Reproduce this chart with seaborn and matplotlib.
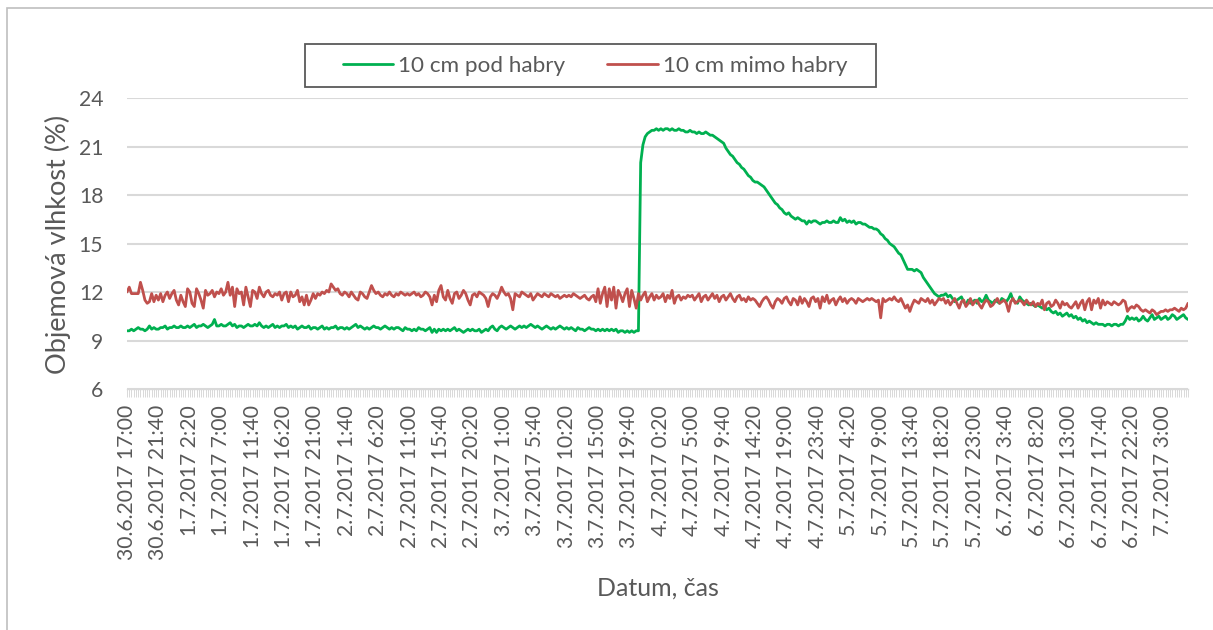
import numpy as np
import pandas as pd
import matplotlib
matplotlib.use("Agg")
import matplotlib.pyplot as plt
import matplotlib.patches as mpatches
import seaborn as sns

# ---------------- data (20-minute readings) ----------------
series_names = ["10 cm pod habry", "10 cm mimo habry"]
series_colors = ["#00B050", "#C0504D"]

pod_habry = [
    9.6, 9.6, 9.7, 9.6, 9.7, 9.8, 9.7, 9.7, 9.6, 9.7, 9.9, 9.7, 9.8, 9.7,
    9.7, 9.8, 9.8, 9.9, 9.7, 9.8, 9.8, 9.9, 9.8, 9.8, 9.9, 9.8, 9.8, 9.9,
    9.8, 9.9, 10.0, 9.8, 9.9, 9.9, 10.0, 9.9, 9.8, 9.9, 10.0, 10.3, 9.9, 9.9,
    10.0, 9.9, 9.9, 10.0, 10.1, 9.9, 10.0, 9.8, 9.9, 9.9, 9.8, 9.9, 10.0, 9.9,
    9.9, 10.0, 9.9, 10.1, 9.9, 9.8, 9.9, 9.8, 9.9, 10.0, 9.8, 9.9, 9.8, 9.9,
    9.9, 10.0, 9.8, 9.9, 9.8, 9.9, 9.7, 9.8, 9.9, 9.8, 9.8, 9.9, 9.7, 9.8,
    9.8, 9.7, 9.8, 9.9, 9.7, 9.8, 9.7, 9.8, 9.8, 9.9, 9.7, 9.8, 9.8, 9.7,
    9.8, 9.7, 9.8, 9.9, 10.0, 9.8, 9.9, 9.8, 9.7, 9.8, 9.7, 9.8, 9.9, 9.8,
    9.8, 9.7, 9.8, 9.9, 9.8, 9.7, 9.8, 9.7, 9.8, 9.8, 9.7, 9.6, 9.8, 9.7,
    9.7, 9.6, 9.7, 9.6, 9.8, 9.7, 9.7, 9.6, 9.7, 9.8, 9.5, 9.7, 9.5, 9.7,
    9.6, 9.7, 9.6, 9.7, 9.6, 9.7, 9.8, 9.6, 9.7, 9.6, 9.5, 9.6, 9.7, 9.6,
    9.7, 9.6, 9.6, 9.7, 9.5, 9.6, 9.7, 9.6, 9.8, 9.9, 9.7, 9.6, 9.8, 9.9,
    9.8, 9.7, 9.8, 9.9, 9.8, 9.7, 9.8, 9.9, 9.8, 9.9, 9.8, 9.9, 10.0, 9.9,
    9.8, 9.9, 9.8, 9.7, 9.8, 9.9, 9.8, 9.7, 9.8, 9.7, 9.8, 9.9, 9.8, 9.7,
    9.8, 9.7, 9.8, 9.7, 9.6, 9.8, 9.7, 9.7, 9.6, 9.7, 9.8, 9.7, 9.7, 9.6,
    9.7, 9.6, 9.7, 9.6, 9.7, 9.6, 9.7, 9.6, 9.7, 9.5, 9.6, 9.6, 9.5, 9.6,
    9.5, 9.6, 9.5, 9.6, 9.6, 20.0, 21.1, 21.6, 21.8, 21.9, 22.0, 22.0, 22.1, 22.0,
    22.1, 22.0, 22.1, 22.1, 22.0, 22.1, 22.0, 22.0, 22.1, 22.0, 22.0, 21.9, 21.9, 22.0,
    21.9, 21.9, 21.8, 21.9, 21.8, 21.8, 21.9, 21.8, 21.7, 21.7, 21.6, 21.5, 21.4, 21.3,
    21.2, 20.9, 20.7, 20.5, 20.4, 20.2, 20.0, 19.9, 19.7, 19.6, 19.4, 19.2, 19.1, 18.9,
    18.8, 18.8, 18.7, 18.6, 18.5, 18.3, 18.1, 17.9, 17.7, 17.5, 17.4, 17.2, 17.1, 16.9,
    16.8, 16.9, 16.7, 16.6, 16.5, 16.6, 16.5, 16.4, 16.4, 16.2, 16.4, 16.3, 16.4, 16.4,
    16.3, 16.2, 16.3, 16.3, 16.4, 16.3, 16.3, 16.4, 16.3, 16.3, 16.6, 16.4, 16.5, 16.3,
    16.4, 16.3, 16.4, 16.2, 16.3, 16.3, 16.2, 16.2, 16.1, 16.0, 16.0, 15.9, 15.9, 15.8,
    15.6, 15.5, 15.3, 15.2, 15.0, 14.9, 14.8, 14.6, 14.4, 14.3, 14.0, 13.7, 13.4, 13.4,
    13.4, 13.3, 13.4, 13.3, 13.2, 12.9, 12.7, 12.5, 12.3, 12.1, 11.9, 11.8, 11.7, 11.8,
    11.8, 11.9, 11.7, 11.8, 11.6, 11.4, 11.5, 11.6, 11.7, 11.4, 11.2, 11.5, 11.3, 11.4,
    11.5, 11.3, 11.6, 11.4, 11.5, 11.8, 11.5, 11.4, 11.3, 11.5, 11.4, 11.3, 11.6, 11.5,
    11.4, 11.6, 11.9, 11.5, 11.4, 11.3, 11.7, 11.5, 11.4, 11.3, 11.2, 11.3, 11.2, 11.1,
    11.2, 11.1, 11.0, 11.1, 10.9, 11.0, 10.8, 10.7, 10.8, 10.6, 10.7, 10.5, 10.6, 10.7,
    10.5, 10.6, 10.4, 10.5, 10.3, 10.4, 10.2, 10.3, 10.1, 10.2, 10.1, 10.0, 10.1, 10.0,
    10.0, 10.0, 9.9, 10.0, 10.0, 9.9, 10.0, 10.0, 9.9, 10.0, 10.0, 10.2, 10.5, 10.3,
    10.4, 10.3, 10.4, 10.2, 10.3, 10.5, 10.3, 10.2, 10.4, 10.6, 10.3, 10.4, 10.5, 10.3,
    10.4, 10.5, 10.3, 10.4, 10.6, 10.5, 10.3, 10.4, 10.5, 10.6, 10.4, 10.3,
]

mimo_habry = [
    12.0, 12.3, 11.9, 11.9, 11.9, 11.9, 12.6, 12.1, 11.5, 11.3, 11.4, 11.9, 11.4, 11.8,
    11.5, 11.9, 11.4, 11.8, 12.0, 11.6, 11.9, 12.1, 11.5, 11.2, 11.8, 11.4, 11.1, 12.2,
    12.0, 11.3, 11.1, 12.2, 11.9, 11.5, 11.0, 12.1, 11.8, 11.9, 12.1, 11.7, 12.0, 11.9,
    12.2, 11.8, 12.0, 12.6, 11.8, 12.3, 11.1, 12.2, 11.9, 12.0, 11.2, 12.3, 11.7, 11.1,
    12.1, 12.0, 11.6, 12.3, 11.9, 11.7, 12.0, 12.1, 11.8, 11.7, 11.9, 11.8, 12.0, 11.5,
    11.9, 12.0, 11.4, 12.0, 11.7, 11.8, 12.1, 11.4, 11.7, 11.2, 11.8, 11.2, 11.5, 11.9,
    11.6, 11.9, 11.8, 12.0, 11.9, 12.1, 12.0, 12.5, 12.3, 12.1, 12.2, 11.9, 11.8, 12.0,
    11.9, 11.7, 12.0, 11.8, 11.6, 11.5, 12.0, 11.9, 11.7, 11.6, 12.0, 12.4, 12.1, 11.9,
    12.0, 11.8, 11.7, 11.9, 11.8, 12.0, 11.8, 11.7, 11.9, 11.8, 12.0, 11.9, 11.8, 11.9,
    11.8, 11.9, 12.0, 11.8, 11.9, 11.7, 11.8, 12.0, 11.9, 11.7, 11.2, 11.8, 11.4, 12.1,
    12.4, 11.7, 11.5, 12.1, 11.6, 11.3, 11.9, 12.0, 11.6, 11.8, 12.1, 11.9, 11.5, 11.2,
    11.8, 11.9, 11.7, 12.0, 11.9, 11.8, 11.6, 11.1, 11.7, 11.9, 11.8, 11.6, 11.9, 12.3,
    12.0, 11.8, 11.9, 11.6, 10.9, 11.9, 11.8, 11.7, 12.0, 11.9, 11.8, 11.7, 11.9, 11.5,
    11.7, 11.9, 11.8, 11.7, 11.9, 11.8, 11.7, 11.9, 11.8, 11.7, 11.8, 11.6, 11.7, 11.8,
    11.7, 11.8, 11.7, 11.9, 11.8, 11.7, 11.6, 11.7, 11.8, 11.6, 11.5, 11.7, 11.8, 11.4,
    12.2, 11.3, 11.9, 12.3, 11.1, 12.2, 11.5, 12.3, 11.0, 12.1, 11.8, 11.4, 11.9, 12.2,
    11.1, 12.1, 11.6, 11.0, 11.9, 11.5, 11.8, 12.0, 11.4, 11.7, 11.9, 11.5, 11.8, 11.6,
    11.7, 11.9, 11.4, 11.8, 11.6, 12.1, 11.3, 11.7, 11.8, 11.5, 11.7, 11.6, 11.8, 11.7,
    11.8, 11.5, 11.7, 11.9, 11.4, 11.7, 11.8, 11.5, 11.7, 11.9, 11.6, 11.8, 11.4, 11.7,
    11.8, 11.5, 11.7, 11.9, 11.6, 11.4, 11.7, 11.8, 11.5, 11.6, 11.4, 11.7, 11.5, 11.6,
    11.5, 11.3, 11.1, 11.4, 11.6, 11.7, 11.5, 11.2, 11.0, 11.4, 11.6, 11.5, 11.3, 11.6,
    11.7, 11.4, 11.2, 11.6, 11.5, 11.2, 11.7, 11.3, 11.6, 11.4, 11.1, 11.6, 11.7, 11.4,
    11.6, 11.0, 11.7, 11.4, 11.8, 11.3, 11.5, 11.6, 11.2, 11.5, 11.7, 11.4, 11.6, 11.3,
    11.5, 11.6, 11.5, 11.3, 11.6, 11.5, 11.4, 11.5, 11.6, 11.5, 11.6, 11.5, 11.4, 11.5,
    10.4, 11.6, 11.4, 11.5, 11.6, 11.5, 11.7, 11.5, 11.4, 11.6, 11.3, 11.0, 11.2, 10.8,
    11.2, 11.5, 11.4, 11.3, 11.6, 11.5, 11.4, 11.6, 11.3, 11.5, 11.2, 11.4, 11.6, 11.5,
    11.6, 11.3, 11.5, 11.2, 11.4, 11.6, 11.3, 11.0, 11.4, 11.5, 11.1, 11.3, 11.6, 11.2,
    11.4, 11.5, 11.2, 11.0, 11.3, 11.5, 11.4, 11.1, 11.2, 11.4, 11.6, 11.3, 11.4, 11.5,
    11.3, 10.8, 11.4, 11.6, 11.3, 11.4, 11.5, 11.4, 11.2, 11.5, 11.3, 11.2, 11.4, 11.1,
    11.3, 11.2, 11.5, 10.9, 11.3, 11.4, 11.1, 11.2, 11.5, 11.3, 11.0, 11.4, 11.2, 11.3,
    11.1, 11.0, 11.2, 11.4, 11.0, 11.3, 11.5, 10.9, 11.4, 11.6, 10.9, 11.5, 11.3, 11.6,
    11.0, 11.5, 11.2, 11.4, 11.3, 11.2, 11.4, 11.3, 11.2, 11.3, 11.5, 11.4, 10.8, 11.0,
    11.1, 11.0, 11.2, 11.1, 10.9, 10.8, 10.9, 10.8, 10.7, 10.9, 10.8, 10.6, 10.7, 10.8,
    10.8, 10.9, 10.8, 10.9, 10.9, 11.0, 10.9, 10.8, 11.0, 10.9, 11.0, 11.3,
]

tick_labels = [
    "30.6.2017 17:00", "30.6.2017 21:40", "1.7.2017 2:20", "1.7.2017 7:00",
    "1.7.2017 11:40", "1.7.2017 16:20", "1.7.2017 21:00", "2.7.2017 1:40",
    "2.7.2017 6:20", "2.7.2017 11:00", "2.7.2017 15:40", "2.7.2017 20:20",
    "3.7.2017 1:00", "3.7.2017 5:40", "3.7.2017 10:20", "3.7.2017 15:00",
    "3.7.2017 19:40", "4.7.2017 0:20", "4.7.2017 5:00", "4.7.2017 9:40",
    "4.7.2017 14:20", "4.7.2017 19:00", "4.7.2017 23:40", "5.7.2017 4:20",
    "5.7.2017 9:00", "5.7.2017 13:40", "5.7.2017 18:20", "5.7.2017 23:00",
    "6.7.2017 3:40", "6.7.2017 8:20", "6.7.2017 13:00", "6.7.2017 17:40",
    "6.7.2017 22:20", "7.7.2017 3:00",
]
label_step = 14  # one label every 14 readings (4 h 40 min)
y_ticks = [6, 9, 12, 15, 18, 21, 24]

# ---------------- build long table ----------------
frames = []
for name, vals in zip(series_names, [pod_habry, mimo_habry]):
    frames.append(pd.DataFrame({"bod": np.arange(len(vals)), "vlhkost": vals, "serie": name}))
df = pd.concat(frames, ignore_index=True)
n_points = max(len(pod_habry), len(mimo_habry))

# ---------------- style ----------------
sns.set_style("white")
plt.rcParams["font.family"] = ["Lato", "DejaVu Sans"]
text_col = "#595959"
grid_col = "#D9D9D9"

W, H = 1213, 630
fig = plt.figure(figsize=(W / 100, H / 100), dpi=100)
L, R, T, B = 127, 1188, 98, 389
ax = fig.add_axes([L / W, 1 - B / H, (R - L) / W, (B - T) / H])

sns.lineplot(data=df, x="bod", y="vlhkost", hue="serie", hue_order=series_names,
             palette=dict(zip(series_names, series_colors)), linewidth=2.0,
             ax=ax, legend=True, estimator=None, sort=False)

ax.set_xlim(0, n_points - 1)
ax.set_ylim(6, 24)
ax.set_yticks(y_ticks)
ax.set_yticklabels([str(v) for v in y_ticks])
ax.yaxis.grid(True, color=grid_col, linewidth=1.5)
ax.xaxis.grid(False)
ax.set_axisbelow(True)

for s in ["top", "right", "left"]:
    ax.spines[s].set_visible(False)
ax.spines["bottom"].set_color(grid_col)
ax.spines["bottom"].set_linewidth(1.0)

major_pos = [i * label_step for i in range(len(tick_labels))]
ax.set_xticks(major_pos)
ax.set_xticklabels(tick_labels, rotation=90, fontsize=15.2, color=text_col)
ax.set_xticks(np.arange(n_points), minor=True)
ax.tick_params(axis="x", which="both", bottom=True, direction="out", length=5.5,
               width=0.7, color=grid_col, pad=6)
ax.tick_params(axis="y", which="both", left=False, length=0, pad=17,
               labelsize=15.2, labelcolor=text_col)

ax.set_xlabel("Datum, čas", fontsize=18, color=text_col)
ax.xaxis.label.set_va("center")
ax.xaxis.set_label_coords((658 - L) / (R - L), (B - 588) / (B - T))
ax.set_ylabel("Objemová vlhkost (%)", fontsize=19.5, color=text_col)
ax.yaxis.label.set_va("center")
ax.yaxis.set_label_coords((58 - L) / (R - L), (B - 244) / (B - T))

# legend
sns.move_legend(ax, "center", bbox_to_anchor=(595 / W, 1 - 65.5 / H),
                bbox_transform=fig.transFigure, ncol=2, frameon=False, title=None,
                fontsize=16.2, handlelength=2.25, handletextpad=0.23, columnspacing=1.85)
leg = ax.get_legend()
for t in leg.get_texts():
    t.set_color(text_col)
for h in leg.get_lines():
    h.set_linewidth(2.0)

# legend box and chart border
fig.patches.append(mpatches.Rectangle((305 / W, 1 - 87 / H), (876 - 305) / W, 43 / H,
                                      transform=fig.transFigure, fill=False,
                                      edgecolor="#595959", linewidth=1.3, zorder=5))
fig.patches.append(mpatches.Rectangle((7 / W, -0.1), 1.2, 1.1 - 8 / H,
                                      transform=fig.transFigure, fill=False,
                                      edgecolor="#BFBFBF", linewidth=1.2, zorder=0))

fig.savefig("out.png", dpi=100, facecolor="white")
